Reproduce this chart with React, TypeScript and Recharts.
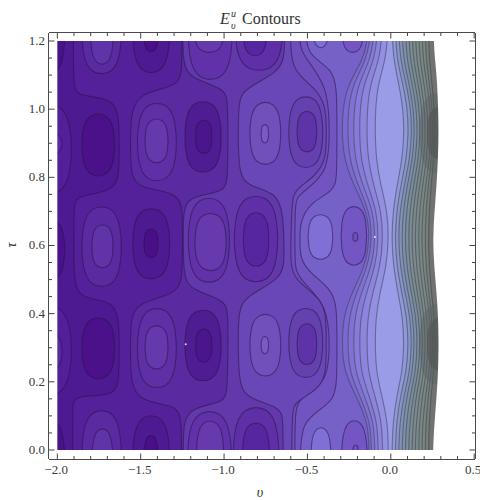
import React from 'react';
import { ScatterChart, Scatter, XAxis, YAxis, Label } from 'recharts';

type P = [number, number];
type Box = [number, number, number, number];

const nuTicks = [-2, -1.9, -1.8, -1.7, -1.6, -1.5, -1.4, -1.3, -1.2, -1.1, -1, -0.9, -0.8, -0.7, -0.6, -0.5, -0.4, -0.3, -0.2, -0.1, 0, 0.1, 0.2, 0.3, 0.4, 0.5];
const nuMajor = [-2, -1.5, -1, -0.5, 0, 0.5];
const tauTicks = [0, 0.05, 0.1, 0.15, 0.2, 0.25, 0.3, 0.35, 0.4, 0.45, 0.5, 0.55, 0.6, 0.65, 0.7, 0.75, 0.8, 0.85, 0.9, 0.95, 1, 1.05, 1.1, 1.15, 1.2];
const tauMajor = [0, 0.2, 0.4, 0.6, 0.8, 1, 1.2];

// τ levels at which the steep right-hand contours were read
const waveTau = [0, 0.08, 0.16, 0.23, 0.31, 0.39, 0.46, 0.54, 0.62, 0.7, 0.78, 0.855, 0.93, 1, 1.07, 1.135, 1.2];

const contourH = [-0.128, -0.136, -0.21, -0.281, -0.293, -0.285, -0.235, -0.153, -0.126, -0.141, -0.227, -0.281, -0.293, -0.288, -0.26, -0.178, -0.131];
const contourI = [-0.114, -0.121, -0.187, -0.249, -0.259, -0.252, -0.208, -0.136, -0.113, -0.126, -0.201, -0.249, -0.259, -0.255, -0.23, -0.158, -0.117];
const contourJ = [-0.094, -0.101, -0.159, -0.215, -0.224, -0.218, -0.179, -0.113, -0.093, -0.104, -0.172, -0.215, -0.224, -0.22, -0.198, -0.133, -0.097];
const contourK = [-0.074, -0.08, -0.131, -0.18, -0.188, -0.182, -0.148, -0.091, -0.073, -0.083, -0.142, -0.18, -0.188, -0.185, -0.165, -0.108, -0.077];
const contourL = [-0.048, -0.053, -0.096, -0.137, -0.144, -0.139, -0.11, -0.062, -0.047, -0.056, -0.106, -0.137, -0.144, -0.141, -0.125, -0.077, -0.05];
const contourM = [-0.014, -0.018, -0.054, -0.088, -0.094, -0.09, -0.066, -0.026, -0.013, -0.02, -0.062, -0.088, -0.094, -0.092, -0.078, -0.038, -0.016];
const contourN = [0.006, 0.013, 0.036, 0.069, 0.08, 0.071, 0.043, 0.015, 0.005, 0.013, 0.039, 0.069, 0.08, 0.074, 0.05, 0.021, 0.007];
const contourO = [0.026, 0.034, 0.058, 0.094, 0.106, 0.096, 0.066, 0.036, 0.025, 0.034, 0.062, 0.094, 0.106, 0.1, 0.074, 0.042, 0.027];
const contourP = [0.046, 0.054, 0.078, 0.114, 0.126, 0.116, 0.086, 0.056, 0.045, 0.054, 0.082, 0.114, 0.126, 0.12, 0.094, 0.062, 0.047];
const contourQ = [0.066, 0.074, 0.096, 0.131, 0.142, 0.133, 0.104, 0.075, 0.065, 0.074, 0.1, 0.131, 0.142, 0.136, 0.112, 0.081, 0.067];
const contourR = [0.086, 0.093, 0.116, 0.149, 0.16, 0.151, 0.123, 0.095, 0.085, 0.093, 0.119, 0.149, 0.16, 0.154, 0.13, 0.101, 0.087];
const contourS = [0.106, 0.113, 0.134, 0.166, 0.176, 0.168, 0.141, 0.114, 0.105, 0.113, 0.138, 0.166, 0.176, 0.171, 0.148, 0.12, 0.107];
const contourT = [0.126, 0.133, 0.152, 0.182, 0.192, 0.184, 0.159, 0.134, 0.125, 0.133, 0.156, 0.182, 0.192, 0.187, 0.166, 0.139, 0.127];
const contourU = [0.146, 0.152, 0.171, 0.199, 0.208, 0.2, 0.177, 0.153, 0.145, 0.152, 0.174, 0.199, 0.208, 0.203, 0.183, 0.158, 0.147];
const contourV = [0.166, 0.172, 0.189, 0.215, 0.224, 0.217, 0.195, 0.173, 0.165, 0.172, 0.192, 0.215, 0.224, 0.219, 0.201, 0.178, 0.167];
const contourW = [0.186, 0.191, 0.208, 0.232, 0.24, 0.234, 0.213, 0.192, 0.185, 0.191, 0.21, 0.232, 0.24, 0.236, 0.218, 0.197, 0.187];
const contourX = [0.206, 0.21, 0.224, 0.244, 0.251, 0.246, 0.228, 0.211, 0.205, 0.21, 0.226, 0.244, 0.251, 0.248, 0.233, 0.215, 0.206];
const contourY = [0.226, 0.23, 0.241, 0.257, 0.263, 0.259, 0.244, 0.23, 0.225, 0.23, 0.242, 0.257, 0.263, 0.26, 0.248, 0.233, 0.226];
const regionEdge = [0.252, 0.262, 0.275, 0.284, 0.287, 0.284, 0.275, 0.26, 0.252, 0.262, 0.275, 0.283, 0.287, 0.284, 0.279, 0.268, 0.255];

// Snaking contours on the left half, as (ν, τ)
const snakeA: P[] = [[-1.908, 0], [-1.908, 0.098], [-1.908, 0.137], [-1.888, 0.159], [-1.665, 0.159], [-1.629, 0.196], [-1.629, 0.294], [-1.629, 0.382], [-1.665, 0.436], [-1.824, 0.443], [-1.888, 0.466], [-1.9, 0.53], [-1.9, 0.588], [-1.9, 0.656], [-1.9, 0.725], [-1.874, 0.746], [-1.665, 0.759], [-1.629, 0.803], [-1.629, 0.891], [-1.629, 0.979], [-1.665, 1.033], [-1.874, 1.038], [-1.9, 1.063], [-1.904, 1.126], [-1.904, 1.2]];
const snakeB: P[] = [[-1.255, 0], [-1.255, 0.098], [-1.295, 0.132], [-1.505, 0.142], [-1.561, 0.196], [-1.561, 0.294], [-1.561, 0.382], [-1.525, 0.431], [-1.305, 0.456], [-1.25, 0.49], [-1.25, 0.588], [-1.25, 0.656], [-1.25, 0.72], [-1.295, 0.756], [-1.505, 0.769], [-1.561, 0.803], [-1.561, 0.901], [-1.561, 0.989], [-1.505, 1.048], [-1.295, 1.066], [-1.25, 1.097], [-1.255, 1.2]];
const snakeC: P[] = [[-1.245, 0], [-1.245, 0.085], [-1.19, 0.125], [-1, 0.14], [-0.98, 0.17], [-0.976, 0.31], [-0.976, 0.41], [-1, 0.44], [-1.19, 0.47], [-1.24, 0.5], [-1.245, 0.59], [-1.245, 0.66], [-1.24, 0.715], [-1.19, 0.745], [-1, 0.757], [-0.978, 0.79], [-0.976, 0.93], [-0.978, 1.03], [-1, 1.06], [-1.19, 1.09], [-1.235, 1.12], [-1.245, 1.16], [-1.248, 1.2]];
const snakeD: P[] = [[-0.645, 0], [-0.647, 0.09], [-0.66, 0.125], [-0.85, 0.15], [-0.91, 0.185], [-0.916, 0.31], [-0.914, 0.41], [-0.87, 0.45], [-0.67, 0.5], [-0.64, 0.54], [-0.64, 0.6], [-0.645, 0.69], [-0.683, 0.756], [-0.856, 0.774], [-0.912, 0.81], [-0.916, 0.93], [-0.912, 1.02], [-0.886, 1.059], [-0.665, 1.109], [-0.64, 1.156], [-0.635, 1.2]];
const snakeE: P[] = [[-0.595, 0], [-0.59, 0.118], [-0.573, 0.14], [-0.443, 0.176], [-0.387, 0.216], [-0.387, 0.31], [-0.387, 0.417], [-0.453, 0.456], [-0.573, 0.5], [-0.6, 0.539], [-0.6, 0.6], [-0.593, 0.734], [-0.573, 0.764], [-0.453, 0.803], [-0.387, 0.852], [-0.387, 0.93], [-0.387, 1.009], [-0.453, 1.063], [-0.593, 1.112], [-0.603, 1.2]];
const snakeF: P[] = [[-0.575, 0], [-0.575, 0.12], [-0.543, 0.155], [-0.375, 0.2], [-0.367, 0.31], [-0.375, 0.42], [-0.543, 0.5], [-0.575, 0.53], [-0.575, 0.6], [-0.575, 0.73], [-0.55, 0.75], [-0.375, 0.81], [-0.367, 0.93], [-0.375, 1.07], [-0.533, 1.16], [-0.55, 1.2]];
const snakeG: P[] = [[-0.545, 0], [-0.53, 0.08], [-0.42, 0.12], [-0.34, 0.15], [-0.323, 0.2], [-0.323, 0.31], [-0.323, 0.42], [-0.353, 0.47], [-0.485, 0.52], [-0.545, 0.56], [-0.545, 0.62], [-0.545, 0.668], [-0.485, 0.726], [-0.34, 0.76], [-0.323, 0.8], [-0.323, 0.93], [-0.323, 1.068], [-0.353, 1.117], [-0.483, 1.156], [-0.513, 1.2]];

// Closed contours as [ν left, ν right, τ low, τ high]
const edgeRings: Box[] = [[-2.2, -1.914, 0.157, 0.426], [-2.2, -1.914, 0.747, 1.018]];
const edgeCores: Box[] = [[-2.2, -1.97, 0.225, 0.353], [-2.2, -1.97, 0.862, 0.935]];
const edgeTroughs: Box[] = [[-2.2, -1.954, -0.15, 0.098], [-2.2, -1.954, 0.49, 0.685], [-2.2, -1.954, 1.092, 1.35]];
const deepOvals: Box[] = [[-1.854, -1.655, 0.208, 0.389], [-1.854, -1.655, 0.803, 0.987]];
const ridgeOuter: Box[] = [[-1.854, -1.615, -0.15, 0.118], [-1.854, -1.615, 0.478, 0.715], [-1.854, -1.615, 1.102, 1.35]];
const ridgeInner: Box[] = [[-1.794, -1.665, -0.15, 0.064], [-1.794, -1.665, 0.534, 0.661], [-1.8, -1.665, 1.131, 1.3]];
const lightOuterA: Box[] = [[-1.521, -1.285, 0.181, 0.417], [-1.521, -1.285, 0.788, 1.019]];
const lightInnerA: Box[] = [[-1.475, -1.335, 0.237, 0.365], [-1.475, -1.335, 0.842, 0.972]];
const pitOuterA: Box[] = [[-1.549, -1.325, -0.15, 0.103], [-1.549, -1.325, 0.5, 0.71], [-1.549, -1.325, 1.105, 1.35]];
const pitInnerA: Box[] = [[-1.481, -1.395, -0.1, 0.044], [-1.481, -1.395, 0.564, 0.649], [-1.481, -1.395, 1.168, 1.27]];
const pitOuterB: Box[] = [[-1.236, -1.016, 0.201, 0.412], [-1.236, -1.016, 0.813, 1.024]];
const pitInnerB: Box[] = [[-1.172, -1.072, 0.257, 0.355], [-1.172, -1.072, 0.87, 0.968]];
const bayOuter: Box[] = [[-1.22, -0.955, -0.15, 0.115], [-1.216, -0.966, 0.49, 0.741], [-1.216, -0.95, 1.085, 1.35]];
const bayInner: Box[] = [[-1.166, -1.002, -0.1, 0.086], [-1.176, -0.986, 0.525, 0.695], [-1.176, -1.002, 1.166, 1.28]];
const pitOuterC: Box[] = [[-0.946, -0.67, -0.15, 0.127], [-0.94, -0.677, 0.491, 0.747], [-0.934, -0.647, 1.112, 1.35]];
const pitInnerC: Box[] = [[-0.89, -0.727, -0.1, 0.08], [-0.886, -0.73, 0.538, 0.697], [-0.886, -0.743, 1.156, 1.3]];
const lightOuterB: Box[] = [[-0.846, -0.659, 0.216, 0.399], [-0.846, -0.659, 0.837, 1.021]];
const lightInnerB: Box[] = [[-0.778, -0.733, 0.282, 0.333], [-0.778, -0.733, 0.901, 0.955]];
const pitOuterD: Box[] = [[-0.613, -0.407, 0.211, 0.417], [-0.613, -0.407, 0.827, 1.038]];
const pitInnerD: Box[] = [[-0.563, -0.443, 0.25, 0.371], [-0.563, -0.443, 0.874, 0.994]];
const lightOvals: Box[] = [[-0.479, -0.359, -0.1, 0.066], [-0.497, -0.347, 0.559, 0.691], [-0.467, -0.373, 1.18, 1.3]];
const dimOvals: Box[] = [[-0.297, -0.14, -0.15, 0.088], [-0.299, -0.144, 0.541, 0.715], [-0.293, -0.164, 1.166, 1.3]];
const dimCores: Box[] = [[-0.228, -0.194, -0.03, 0.015], [-0.228, -0.198, 0.612, 0.638]];
const shadeOuter: Box[] = [[0.17, 0.4, 0.19, 0.43], [0.17, 0.4, 0.81, 1.05]];
const shadeInner: Box[] = [[0.215, 0.4, 0.23, 0.39], [0.215, 0.4, 0.85, 1.01]];
const specks: P[] = [[-1.23, 0.31], [-0.095, 0.625]];

const far = { left: -2.2, right: 0.7, low: -0.2, high: 1.4 };
const frame = { left: -2.05, right: 0.505, low: -0.0265, high: 1.2235 };

const toRows = (pts: P[]) => pts.map(([nu, tau]) => ({ nu, tau }));
const thrice = (p: P): P[] => [p, p, p];
const leftOf = (line: P[]) => toRows([
  ...thrice([far.left, far.low]), ...thrice([line[0][0], far.low]), ...line,
  ...thrice([line[line.length - 1][0], far.high]), ...thrice([far.left, far.high]),
]);
const waveLine = (xs: number[]): P[] => xs.map((x, i) => [x, waveTau[i]]);
const oval = ([l, r, b, t]: Box) => {
  const mx = (l + r) / 2, my = (b + t) / 2, w = (r - l) * 0.27, h = (t - b) * 0.27;
  return toRows([[l, my - h], [l, my + h], [mx - w, t], [mx + w, t], [r, my + h], [r, my - h], [mx + w, b], [mx - w, b]]);
};
const rightMask = toRows([
  ...thrice([far.right, far.low]), ...thrice([regionEdge[0], far.low]), ...waveLine(regionEdge),
  ...thrice([regionEdge[16], far.high]), ...thrice([far.right, far.high]),
]);
const rect = (l: number, r: number, b: number, t: number) => toRows([[l, b], [r, b], [r, t], [l, t]]);

const INK = 'rgba(38,22,70,0.55)';
const GREY_INK = 'rgba(58,58,72,0.5)';

const Shape = () => null;
const Poly = (rows: { nu: number; tau: number }[], fill: string, stroke: string, key: string, type = 'basisClosed', opacity = 1) => (
  <Scatter
    key={key}
    data={rows}
    xAxisId="b"
    yAxisId="l"
    isAnimationActive={false}
    shape={Shape as any}
    line={{ fill, stroke, strokeWidth: stroke === 'none' ? 0 : 1.1, fillOpacity: opacity } as any}
    lineType="joint"
    lineJointType={type as any}
  />
);

const rightBands: [number[], string, string][] = [
  [contourY, '#767f7c', GREY_INK], [contourX, '#7a8682', GREY_INK], [contourW, '#7b8884', GREY_INK],
  [contourV, '#7b8a88', GREY_INK], [contourU, '#7b8b8c', GREY_INK], [contourT, '#7b8c92', GREY_INK],
  [contourS, '#7c8e9c', GREY_INK], [contourR, '#7e90a8', GREY_INK], [contourQ, '#8292b6', GREY_INK],
  [contourP, '#8895c8', GREY_INK], [contourO, '#8f98d8', GREY_INK], [contourN, '#9a9ce8', GREY_INK],
  [contourM, '#938fe2', GREY_INK], [contourL, '#8c85dd', GREY_INK], [contourK, '#867bd8', GREY_INK],
  [contourJ, '#8072d3', GREY_INK], [contourI, '#7b69ce', GREY_INK], [contourH, '#7661c9', GREY_INK],
];
const snakes: [P[], string][] = [
  [snakeG, '#7254c0'], [snakeF, '#6e4ebb'], [snakeE, '#6a47b6'], [snakeD, '#6338ab'],
  [snakeC, '#5a2aa0'], [snakeB, '#55219a'], [snakeA, '#4e1a91'],
];
const ovalGroups: [Box[], string][] = [
  [edgeRings, '#54209a'], [edgeCores, '#5a28a0'], [edgeTroughs, '#4a128a'],
  [deepOvals, '#4a118a'], [ridgeOuter, '#5a2aa0'], [ridgeInner, '#6133a8'],
  [pitOuterA, '#4e1a91'], [pitInnerA, '#480f88'],
  [lightOuterA, '#5f2fa6'], [lightInnerA, '#6538ad'],
  [pitOuterB, '#4f1d93'], [pitInnerB, '#4a158d'],
  [bayOuter, '#6031a8'], [bayInner, '#6639ad'],
  [pitOuterC, '#5e2fa6'], [pitInnerC, '#5626a0'],
  [lightOuterB, '#7250bc'], [lightInnerB, '#7a5bc6'],
  [pitOuterD, '#6541b0'], [pitInnerD, '#5f33a8'],
  [lightOvals, '#8070d6'], [dimOvals, '#7355c4'], [dimCores, '#6d4fc0'],
];

const serif = '"Liberation Serif", serif';

const makeTick = (side: 'b' | 't' | 'l' | 'r') => (props: any) => {
  const { x, y, payload } = props;
  const value = payload.value as number;
  const major = (side === 'b' || side === 't' ? nuMajor : tauMajor).includes(value);
  const len = major ? 5.5 : 3;
  const text = value.toFixed(1).replace('-', '\u2212');
  if (side === 'b' || side === 't') {
    const dir = side === 'b' ? -1 : 1;
    return (
      <g>
        <line x1={x} x2={x} y1={y} y2={y + dir * len} stroke="#444" strokeWidth={1} />
        {side === 'b' && major && (
          <text x={x - 1} y={y + 15} textAnchor="middle" fontFamily={serif} fontSize={13} fill="#3a3a3a">{text}</text>
        )}
      </g>
    );
  }
  const dir = side === 'l' ? 1 : -1;
  return (
    <g>
      <line x1={x} x2={x + dir * len} y1={y} y2={y} stroke="#444" strokeWidth={1} />
      {side === 'l' && major && (
        <text x={x - 4} y={y + 4} textAnchor="end" fontFamily={serif} fontSize={13} fill="#3a3a3a">{text}</text>
      )}
    </g>
  );
};

const Title = () => (
  <g fontFamily={serif} fill="#333">
    <text x={220} y={24} fontSize={16} fontStyle="italic">E</text>
    <text x={231} y={17} fontSize={10} fontStyle="italic">u</text>
    <text x={231} y={29} fontSize={10} fontStyle="italic">υ</text>
    <text x={242} y={24} fontSize={16}>Contours</text>
  </g>
);
const NuLabel = () => (
  <text x={260} y={497} textAnchor="middle" fontFamily={serif} fontSize={14} fontStyle="italic" fill="#333">υ</text>
);
const TauLabel = () => (
  <text x={13} y={245} textAnchor="middle" transform="rotate(-90 13 245)" dominantBaseline="middle" fontFamily={serif} fontSize={14} fontStyle="italic" fill="#333">τ</text>
);

const axisLine = { stroke: '#4a4a4a', strokeWidth: 2 };

export default function App() {
  return (
    <div style={{ position: 'absolute', left: 0, top: 0, width: 480, height: 500, background: '#fff' }}>
      <ScatterChart width={480} height={500} margin={{ left: 48, right: 4, top: 32, bottom: 40 }}>
        <XAxis xAxisId="b" orientation="bottom" type="number" dataKey="nu" domain={[frame.left, frame.right]} allowDataOverflow ticks={nuTicks} interval={0} height={1} tickSize={0} tickMargin={0} tickLine={false} axisLine={axisLine} tick={makeTick('b')}>
          <Label content={NuLabel} />
        </XAxis>
        <XAxis xAxisId="t" orientation="top" type="number" dataKey="nu" domain={[frame.left, frame.right]} allowDataOverflow ticks={nuTicks} interval={0} height={1} tickSize={0} tickMargin={0} tickLine={false} axisLine={axisLine} tick={makeTick('t')}>
          <Label content={Title} />
        </XAxis>
        <YAxis yAxisId="l" orientation="left" type="number" dataKey="tau" domain={[frame.low, frame.high]} allowDataOverflow ticks={tauTicks} interval={0} width={1} tickSize={0} tickMargin={0} tickLine={false} axisLine={axisLine} tick={makeTick('l')}>
          <Label content={TauLabel} />
        </YAxis>
        <YAxis yAxisId="r" orientation="right" type="number" dataKey="tau" domain={[frame.low, frame.high]} allowDataOverflow ticks={tauTicks} interval={0} width={1} tickSize={0} tickMargin={0} tickLine={false} axisLine={axisLine} tick={makeTick('r')} />

        {Poly(rect(far.left, far.right, far.low, far.high), '#70736f', 'none', 'base', 'linearClosed')}
        {rightBands.map(([xs, fill, ink], i) => Poly(leftOf(waveLine(xs)), fill, ink, `w${i}`))}
        {snakes.map(([line, fill], i) => Poly(leftOf(line), fill, INK, `s${i}`))}
        {ovalGroups.flatMap(([boxes, fill], g) => boxes.map((b, i) => Poly(oval(b), fill, INK, `o${g}-${i}`)))}
        {shadeOuter.map((b, i) => Poly(oval(b), '#5c6064', 'none', `so${i}`, 'basisClosed', 0.45))}
        {shadeInner.map((b, i) => Poly(oval(b), '#50534f', 'none', `si${i}`, 'basisClosed', 0.55))}
        {Poly(rightMask, '#ffffff', 'none', 'maskR')}
        {Poly(rect(frame.left, frame.right, frame.low, 0), '#ffffff', 'none', 'maskB', 'linearClosed')}
        {Poly(rect(frame.left, frame.right, 1.2, frame.high), '#ffffff', 'none', 'maskT', 'linearClosed')}
        {Poly(rect(frame.left, -2, frame.low, frame.high), '#ffffff', 'none', 'maskL', 'linearClosed')}
        <Scatter
          data={toRows(specks)}
          xAxisId="b"
          yAxisId="l"
          isAnimationActive={false}
          shape={((p: any) => <circle cx={p.cx} cy={p.cy} r={1} fill="#e4e0f4" />) as any}
        />
      </ScatterChart>
    </div>
  );
}
